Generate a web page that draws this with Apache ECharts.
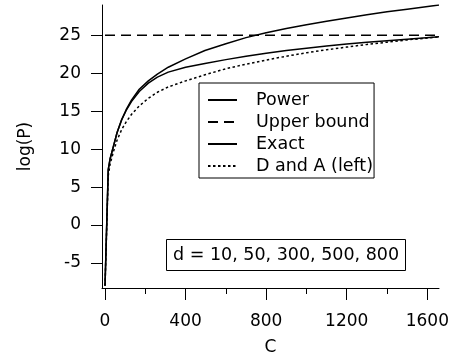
<!DOCTYPE html>
<html>
<head>
<meta charset="utf-8">
<script src="https://cdn.jsdelivr.net/npm/echarts@6/dist/echarts.min.js"></script>
<style>
html,body{margin:0;padding:0;background:#fff;}
#chart{width:449px;height:354px;}
</style>
</head>
<body>
<div id="chart"></div>
<script>
// ---- data ----
var cValues = [0, 16, 25, 41, 60, 83, 105, 132, 170, 215, 260, 314, 400, 496, 600, 700, 800, 900, 1000, 1100, 1200, 1300, 1400, 1500, 1658];
var powerValues = [-8.0, 7.3, 8.7, 10.3, 12.2, 13.9, 15.2, 16.5, 17.9, 19.0, 19.9, 20.8, 21.9, 23.0, 23.9, 24.7, 25.35, 25.9, 26.4, 26.85, 27.3, 27.7, 28.1, 28.45, 29.0];
var exactValues = [-8.0, 7.3, 8.7, 10.3, 12.2, 13.9, 15.1, 16.3, 17.6, 18.7, 19.5, 20.15, 20.8, 21.3, 21.8, 22.25, 22.65, 23.0, 23.3, 23.6, 23.85, 24.1, 24.3, 24.5, 24.8];
var daValues = [-8.0, 6.5, 8.0, 9.6, 11.2, 12.6, 13.6, 14.6, 15.7, 16.7, 17.5, 18.2, 19.0, 19.8, 20.6, 21.2, 21.75, 22.25, 22.7, 23.1, 23.45, 23.8, 24.1, 24.4, 24.8];
var upperC = [0, 1658];
var upperValues = [25, 25];
var seriesNames = ['Power', 'Upper bound', 'Exact', 'D and A (left)'];
var xTicks = [0, 400, 800, 1200, 1600];
var xMinorTicks = [200, 600, 1000, 1400];
var yTicks = [-5, 0, 5, 10, 15, 20, 25];
var noteText = 'd = 10, 50, 300, 500, 800';

function pairs(xs, ys) {
  var out = [];
  for (var i = 0; i < xs.length; i++) out.push([xs[i], ys[i]]);
  return out;
}
function plain(v) { return String(v); }

var FONT = 'DejaVu Sans';
var xMin = -15, xMax = 1658, yMin = -8.3, yMax = 29.0;

var chart = echarts.init(document.getElementById('chart'), null, {renderer: 'canvas'});
var lineBase = {type: 'line', showSymbol: false, symbol: 'none', smooth: false, animation: false};

chart.setOption({
  animation: false,
  backgroundColor: '#fff',
  textStyle: {fontFamily: FONT, color: '#000'},
  grid: {left: 102, right: 10, top: 5, bottom: 66, containLabel: false, outerBoundsMode: 'none'},
  title: {
    text: noteText,
    left: 166, top: 239,
    padding: [7, 7, 7, 7],
    borderColor: '#000', borderWidth: 1,
    textStyle: {fontFamily: FONT, fontSize: 17.5, fontWeight: 'normal', color: '#000'}
  },
  legend: {
    orient: 'vertical',
    left: 199, top: 83,
    borderColor: '#000', borderWidth: 1,
    padding: [8, 1, 3, 8],
    itemWidth: 29, itemHeight: 14, itemGap: 4,
    align: 'left',
    data: seriesNames,
    itemStyle: {opacity: 0, color: 'transparent', borderColor: 'transparent', borderWidth: 0},
    textStyle: {fontFamily: FONT, fontSize: 17.5, color: '#000', padding: [0, 0, 0, 14]}
  },
  xAxis: [{
    type: 'value', min: xMin, max: xMax,
    name: 'C', nameLocation: 'middle', nameGap: 51,
    nameTextStyle: {fontFamily: FONT, fontSize: 17, color: '#000'},
    axisLine: {show: true, onZero: false, lineStyle: {color: '#000', width: 1}},
    axisTick: {show: true, inside: false, length: 12, customValues: xTicks, lineStyle: {color: '#000', width: 1}},
    axisLabel: {show: true, customValues: xTicks, formatter: plain, margin: 25, fontFamily: FONT, fontSize: 17, color: '#000'},
    splitLine: {show: false}
  }, {
    type: 'value', min: xMin, max: xMax, position: 'bottom',
    axisLine: {show: false, onZero: false},
    axisTick: {show: true, inside: false, length: 6, customValues: xMinorTicks, lineStyle: {color: '#000', width: 1}},
    axisLabel: {show: false},
    splitLine: {show: false}
  }],
  yAxis: {
    type: 'value', min: yMin, max: yMax,
    name: 'log(P)', nameLocation: 'middle', nameGap: 68, nameRotate: 90,
    nameTextStyle: {fontFamily: FONT, fontSize: 17, color: '#000'},
    axisLine: {show: true, onZero: false, lineStyle: {color: '#000', width: 1}},
    axisTick: {show: true, inside: false, length: 11, customValues: yTicks, lineStyle: {color: '#000', width: 1}},
    axisLabel: {show: true, customValues: yTicks, formatter: plain, margin: 21, fontFamily: FONT, fontSize: 17, color: '#000'},
    splitLine: {show: false}
  },
  series: [
    Object.assign({}, lineBase, {name: seriesNames[0], data: pairs(cValues, powerValues),
      lineStyle: {color: '#000', width: 1.5, type: 'solid'}, itemStyle: {color: '#000'}}),
    Object.assign({}, lineBase, {name: seriesNames[1], data: pairs(upperC, upperValues),
      lineStyle: {color: '#000', width: 1.5, type: [10, 6]}, itemStyle: {color: '#000'}}),
    Object.assign({}, lineBase, {name: seriesNames[2], data: pairs(cValues, exactValues),
      lineStyle: {color: '#000', width: 1.5, type: 'solid'}, itemStyle: {color: '#000'}}),
    Object.assign({}, lineBase, {name: seriesNames[3], data: pairs(cValues, daValues),
      lineStyle: {color: '#000', width: 1.5, type: [2.5, 2.5]}, itemStyle: {color: '#000'}})
  ]
});
</script>
</body>
</html>
